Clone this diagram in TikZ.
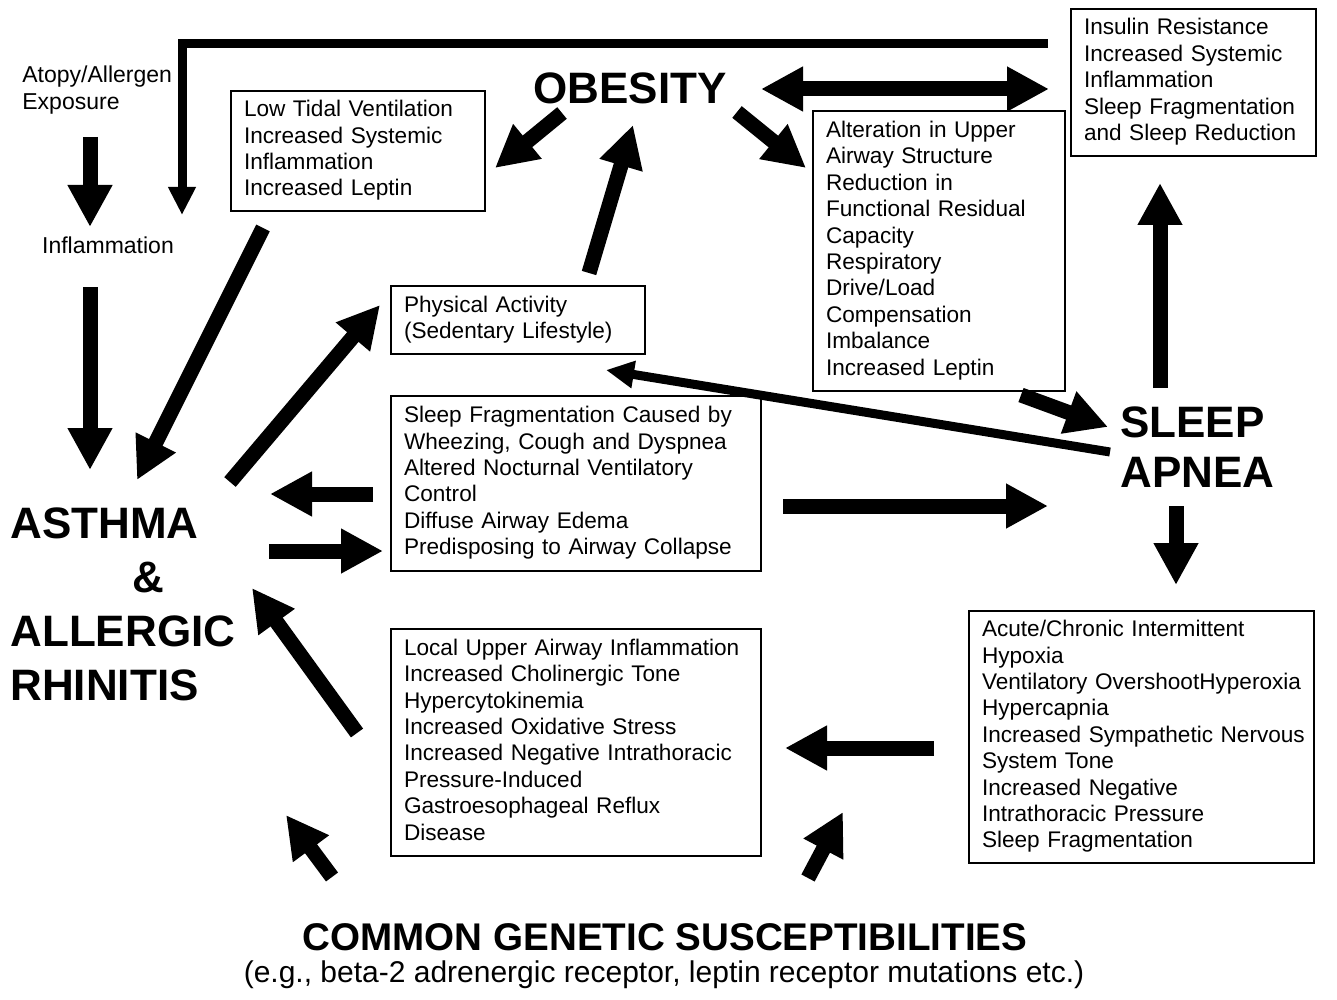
\documentclass[tikz,border=0pt]{standalone}
\usepackage{fontspec}
\setmainfont{Liberation Sans}
\usetikzlibrary{arrows.meta}

\newcommand{\boxfont}{\fontsize{11.3}{13.2}\selectfont}
\newcommand{\plainfont}{\fontsize{11.5}{13.2}\selectfont}
\newcommand{\bigfont}{\fontsize{22}{27}\selectfont\bfseries}
\newcommand{\boxlines}[1]{\begin{tabular}{@{}l@{}}#1\end{tabular}}

\tikzset{
  infobox/.style={draw, line width=1pt, anchor=north west, inner xsep=6.5pt, inner ysep=0pt, font=\boxfont},
  plaintext/.style={inner sep=0pt, align=left, font=\plainfont},
  bigarrow/.style={line width=7.5pt, -{Triangle[width=21pt,length=21pt]}},
  twoway/.style={line width=7.5pt, {Triangle[width=21pt,length=21pt]}-{Triangle[width=21pt,length=21pt]}},
  thinarrow/.style={line width=4.5pt, -{Triangle[width=13pt,length=14pt]}},
}

\begin{document}
\begin{tikzpicture}[x=0.5pt, y=-0.5pt]
    \useasboundingbox (0,0) rectangle (1337,1000);

    % titles
    \node[font=\bigfont] (obesity) at (630,88) {OBESITY};
    \node[font=\bigfont, align=left, anchor=west, inner sep=0pt] (asthma) at (10,604)
        {ASTHMA\\\hspace*{61pt}\&\\ALLERGIC\\RHINITIS};
    \node[font=\fontsize{22}{25}\selectfont\bfseries, align=left, anchor=west, inner sep=0pt] (apnea) at (1120,447)
        {SLEEP\\APNEA};
    \node[font=\fontsize{19.3}{22}\selectfont\bfseries] (genetic) at (665,937) {COMMON GENETIC SUSCEPTIBILITIES};
    \node[font=\fontsize{15}{18}\selectfont] (examples) at (664,975)
        {(e.g., beta-2 adrenergic receptor, leptin receptor mutations etc.)};

    \node[plaintext, anchor=west] (atopy) at (22,90) {Atopy/Allergen\\Exposure};
    \node[plaintext] (inflam) at (108,245) {Inflammation};

    % boxes
    \node[infobox, text width=114pt, minimum height=60pt] (lowtidal) at (230,90)
        {\boxlines{Low Tidal Ventilation\\Increased Systemic\\Inflammation\\Increased Leptin}};
    \node[infobox, text width=109.5pt, minimum height=73.5pt] (insulin) at (1070,8)
        {\boxlines{Insulin Resistance\\Increased Systemic\\Inflammation\\Sleep Fragmentation\\and Sleep Reduction}};
    \node[infobox, text width=113pt, minimum height=140pt] (airway) at (812,110)
        {\boxlines{Alteration in Upper\\Airway Structure\\Reduction in\\Functional Residual\\Capacity\\Respiratory\\Drive/Load\\Compensation\\Imbalance\\Increased Leptin}};
    \node[infobox, text width=114pt, minimum height=34pt] (activity) at (390,285)
        {\boxlines{Physical Activity\\(Sedentary Lifestyle)}};
    \node[infobox, text width=172pt, minimum height=87.5pt] (sleepfrag) at (390,395)
        {\boxlines{Sleep Fragmentation Caused by\\Wheezing, Cough and Dyspnea\\Altered Nocturnal Ventilatory\\Control\\Diffuse Airway Edema\\Predisposing to Airway Collapse}};
    \node[infobox, text width=172pt, minimum height=113.5pt] (local) at (390,628)
        {\boxlines{Local Upper Airway Inflammation\\Increased Cholinergic Tone\\Hypercytokinemia\\Increased Oxidative Stress\\Increased Negative Intrathoracic\\Pressure-Induced\\Gastroesophageal Reflux\\Disease}};
    \node[infobox, text width=159.5pt, minimum height=126pt] (hypoxia) at (968,610)
        {\boxlines{Acute/Chronic Intermittent\\Hypoxia\\Ventilatory OvershootHyperoxia\\Hypercapnia\\Increased Sympathetic Nervous\\System Tone\\Increased Negative\\Intrathoracic Pressure\\Sleep Fragmentation}};

    % arrow ends
    \coordinate (atopy-out) at (90,137);      \coordinate (inflam-in) at (90,227);
    \coordinate (inflam-out) at (90,287);     \coordinate (asthma-top) at (90,470);
    \coordinate (lowtidal-out) at (263,228);  \coordinate (asthma-ne) at (137,480);
    \coordinate (asthma-out) at (230,482);    \coordinate (activity-in) at (380,305);
    \coordinate (sleepfrag-out) at (373,494); \coordinate (asthma-e) at (270,494);
    \coordinate (asthma-e2) at (269,551);     \coordinate (sleepfrag-in) at (383,551);
    \coordinate (local-out) at (357,733);     \coordinate (asthma-se) at (252,588);
    \coordinate (obesity-sw) at (562,113);    \coordinate (lowtidal-in) at (495,168);
    \coordinate (obesity-se) at (737,112);    \coordinate (airway-in) at (806,168);
    \coordinate (activity-out) at (589,273);  \coordinate (obesity-s) at (633,125);
    \coordinate (obesity-e) at (761,89);      \coordinate (insulin-w) at (1049,89);
    \coordinate (airway-out) at (1021,395);   \coordinate (apnea-nw) at (1108,427);
    \coordinate (apnea-w) at (1110,452);      \coordinate (activity-se) at (606,370);
    \coordinate (sleepfrag-e) at (783,506);   \coordinate (apnea-in) at (1048,506);
    \coordinate (apnea-n) at (1160,388);      \coordinate (insulin-s) at (1160,183);
    \coordinate (apnea-s) at (1176,506);      \coordinate (hypoxia-n) at (1176,585);
    \coordinate (hypoxia-w) at (934,748);     \coordinate (local-e) at (785,748);
    \coordinate (genetic-l) at (332,877);     \coordinate (genetic-l2) at (286,815);
    \coordinate (genetic-r) at (808,878);     \coordinate (genetic-r2) at (843,812);
    \coordinate (insulin-fb) at (1048,44);    \coordinate (inflam-fb) at (182,215);

    % arrows
    \draw[bigarrow] (atopy-out) -- (inflam-in);
    \draw[bigarrow] (inflam-out) -- (asthma-top);
    \draw[bigarrow] (lowtidal-out) -- (asthma-ne);
    \draw[bigarrow] (asthma-out) -- (activity-in);
    \draw[bigarrow] (sleepfrag-out) -- (asthma-e);
    \draw[bigarrow] (asthma-e2) -- (sleepfrag-in);
    \draw[bigarrow] (local-out) -- (asthma-se);
    \draw[bigarrow] (obesity-sw) -- (lowtidal-in);
    \draw[bigarrow] (obesity-se) -- (airway-in);
    \draw[bigarrow] (activity-out) -- (obesity-s);
    \draw[twoway] (obesity-e) -- (insulin-w);
    \draw[bigarrow] (airway-out) -- (apnea-nw);
    \draw[thinarrow] (apnea-w) -- (activity-se);
    \draw[bigarrow] (sleepfrag-e) -- (apnea-in);
    \draw[bigarrow] (apnea-n) -- (insulin-s);
    \draw[bigarrow] (apnea-s) -- (hypoxia-n);
    \draw[bigarrow] (hypoxia-w) -- (local-e);
    \draw[bigarrow] (genetic-l) -- (genetic-l2);
    \draw[bigarrow] (genetic-r) -- (genetic-r2);
    \draw[thinarrow] (insulin-fb) -| (inflam-fb);
\end{tikzpicture}
\end{document}
